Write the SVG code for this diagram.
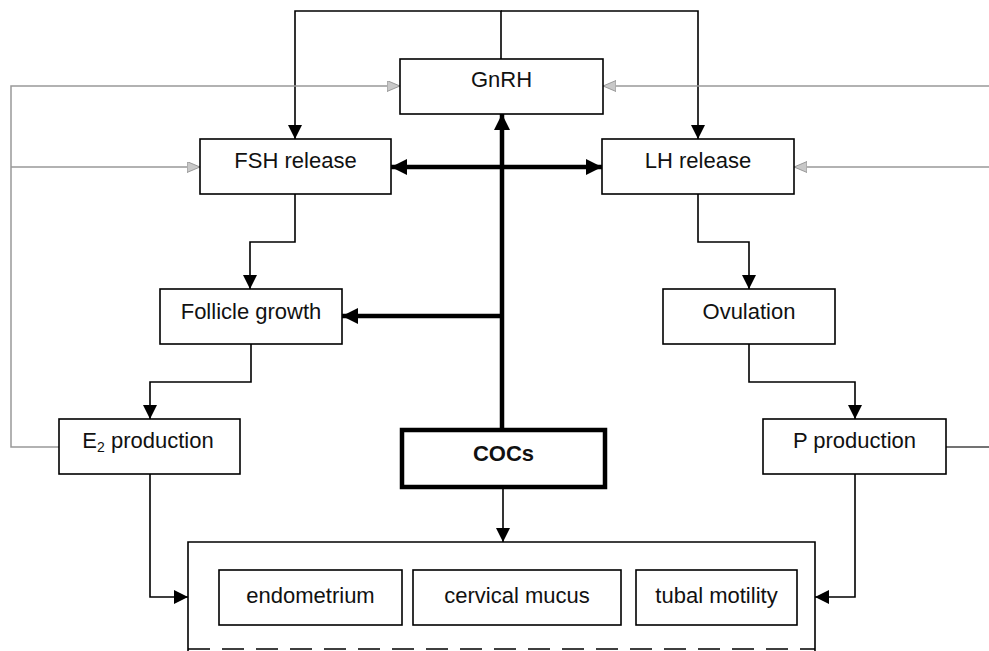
<svg xmlns="http://www.w3.org/2000/svg" width="989" height="651" viewBox="0 0 989 651">
<style>
.box{fill:#fff;stroke:#000;stroke-width:1.6}
.bold{fill:#fff;stroke:#000;stroke-width:4.5}
.t{font-family:"Liberation Sans",Arial,sans-serif;font-size:22px;fill:#111;text-anchor:middle}
.b{font-weight:bold}
.c{fill:none;stroke:#000;stroke-width:1.6}
.g{fill:none;stroke:#999;stroke-width:1.5}
.k{fill:none;stroke:#000;stroke-width:4.5}
</style>
<defs>
<marker id="a" markerUnits="userSpaceOnUse" markerWidth="15" markerHeight="15" refX="14" refY="7" orient="auto"><path d="M0,0 L14,7 L0,14 z" fill="#000"/></marker>
<marker id="ga" markerUnits="userSpaceOnUse" markerWidth="14" markerHeight="12" refX="13" refY="5.5" orient="auto"><path d="M0,0 L13,5.5 L0,11 z" fill="#c8c8c8" stroke="#888" stroke-width="0.8"/></marker>
<marker id="ka" markerUnits="userSpaceOnUse" markerWidth="18" markerHeight="18" refX="16" refY="8" orient="auto-start-reverse"><path d="M0,0 L16,8 L0,16 z" fill="#000"/></marker>
</defs>
<g id="connectors">
<path class="c" d="M501,59 V11 H295 V139" marker-end="url(#a)"/>
<path class="c" d="M501,11 H698 V139" marker-end="url(#a)"/>
<path class="g" d="M59,447 H11 V86 H400" marker-end="url(#ga)"/>
<path class="g" d="M11,167 H200" marker-end="url(#ga)"/>
<path class="g" d="M989,86 H603" marker-end="url(#ga)"/>
<path class="g" d="M989,167 H794" marker-end="url(#ga)"/>
<path class="c" d="M946,447 H989" style="stroke:#444;stroke-width:1.3"/>
<path class="c" d="M295,194 V242 H250 V289" marker-end="url(#a)"/>
<path class="c" d="M698,194 V242 H749 V289" marker-end="url(#a)"/>
<path class="c" d="M251,344 V382 H150 V419" marker-end="url(#a)"/>
<path class="c" d="M749,344 V382 H855 V419" marker-end="url(#a)"/>
<path class="c" d="M150,473 V597 H188" marker-end="url(#a)"/>
<path class="c" d="M855,474 V597 H815" marker-end="url(#a)"/>
<path class="c" d="M503,487 V542" marker-end="url(#a)"/>
<path class="k" d="M502,430 V114" marker-end="url(#ka)"/>
<path class="k" d="M391,167 H602" marker-start="url(#ka)" marker-end="url(#ka)"/>
<path class="k" d="M502,316 H342" marker-end="url(#ka)"/>
</g>
<g id="gnrh"><rect class="box" x="400" y="59" width="203" height="55"/><text class="t" x="501.5" y="87">GnRH</text></g>
<g id="fsh"><rect class="box" x="200" y="139" width="191" height="55"/><text class="t" x="295.5" y="168">FSH release</text></g>
<g id="lh"><rect class="box" x="602" y="139" width="192" height="55"/><text class="t" x="698" y="168">LH release</text></g>
<g id="follicle"><rect class="box" x="160" y="289" width="182" height="55"/><text class="t" x="251" y="319">Follicle growth</text></g>
<g id="ovulation"><rect class="box" x="663" y="289" width="172" height="55"/><text class="t" x="749" y="319">Ovulation</text></g>
<g id="e2"><rect class="box" x="59" y="419" width="181" height="55"/><text class="t" x="148" y="448">E<tspan font-size="14" dy="4">2</tspan><tspan dy="-4"> production</tspan></text></g>
<g id="p"><rect class="box" x="763" y="419" width="183" height="55"/><text class="t" x="854.5" y="448">P production</text></g>
<g id="cocs"><rect class="bold" x="402" y="430" width="203" height="57"/><text class="t b" x="503.5" y="461">COCs</text></g>
<g id="targets">
<path class="c" d="M188,651 V542 H815 V651"/>
<path class="c" d="M188,649 H815" stroke-dasharray="22 12"/>
</g>
<g id="endometrium"><rect class="box" x="219" y="570" width="183" height="55"/><text class="t" x="310.5" y="603">endometrium</text></g>
<g id="mucus"><rect class="box" x="413" y="570" width="208" height="55"/><text class="t" x="517" y="603">cervical mucus</text></g>
<g id="tubal"><rect class="box" x="636" y="570" width="161" height="55"/><text class="t" x="716.5" y="603">tubal motility</text></g>
</svg>
